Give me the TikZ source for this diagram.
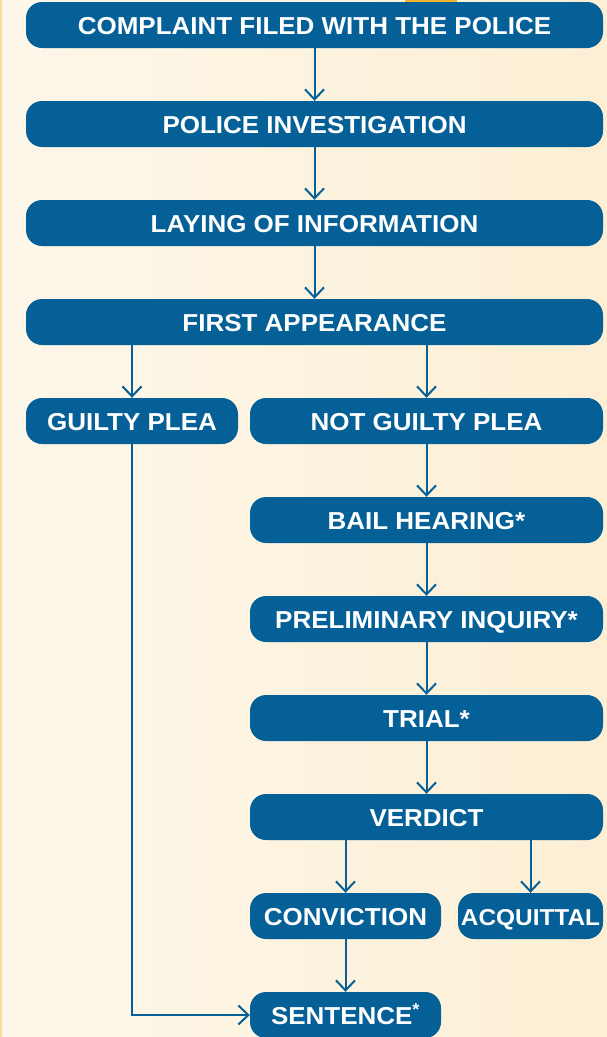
\documentclass[tikz,border=0pt]{standalone}
\usepackage{fontspec}
\setmainfont{Liberation Sans}[FakeStretch=1.06]
\usetikzlibrary{arrows.meta}
\definecolor{stepblue}{RGB}{4,96,150}
\definecolor{creamL}{RGB}{253,247,234}
\definecolor{creamR}{RGB}{252,239,212}
\definecolor{edgeyellow}{RGB}{250,222,150}
\definecolor{tabgold}{RGB}{240,178,44}
\begin{document}
\begin{tikzpicture}[x=1pt, y=-1pt,
            stage/.style={fill=stepblue, rounded corners=16pt, text=white,
                font=\bfseries\fontsize{24.5}{28}\selectfont,
                minimum height=46pt, inner sep=0pt, align=center,
                text height=19.5pt, text depth=0pt},
            full/.style={stage, minimum width=577pt},
            right/.style={stage, minimum width=353pt},
            flow/.style={draw=stepblue, line width=2pt,
                -{Straight Barb[length=10pt, width=19pt, line width=2pt]}}
        ]
            % background
            \useasboundingbox (0,0) rectangle (607,1037);
            \fill[left color=creamL, right color=creamR] (0,0) rectangle (607,1037);
            \fill[edgeyellow] (0,0) rectangle (2,1037);
            \fill[tabgold] (405,0) rectangle (457,2);

            \node[full] (complaint) at (314.5,25) {COMPLAINT FILED WITH THE POLICE};
            \node[full] (investigation) at (314.5,124) {POLICE INVESTIGATION};
            \node[full] (information) at (314.5,223) {LAYING OF INFORMATION};
            \node[full] (appearance) at (314.5,322) {FIRST APPEARANCE};

            \node[stage, minimum width=212pt] (guilty) at (132,421) {GUILTY PLEA};
            \node[right] (notguilty) at (426.5,421) {NOT GUILTY PLEA};
            \node[right] (bail) at (426.5,520) {BAIL HEARING*};
            \node[right] (inquiry) at (426.5,619) {PRELIMINARY INQUIRY*};
            \node[right] (trial) at (426.5,718) {TRIAL*};
            \node[right] (verdict) at (426.5,817) {VERDICT};

            \node[stage, minimum width=191pt] (conviction) at (345.5,916) {CONVICTION};
            \node[stage, minimum width=145pt, font=\bfseries\fontsize{23}{28}\selectfont] (acquittal) at (530.5,916) {ACQUITTAL};
            \node[stage, minimum width=191pt] (sentence) at (345.5,1015) {SENTENCE\textsuperscript{*}};

            \draw[flow] (complaint) -- (investigation);
            \draw[flow] (investigation) -- (information);
            \draw[flow] (information) -- (appearance);
            \draw[flow] (guilty |- appearance.south) -- (guilty.north);
            \draw[flow] (notguilty |- appearance.south) -- (notguilty.north);
            \draw[flow] (notguilty) -- (bail);
            \draw[flow] (bail) -- (inquiry);
            \draw[flow] (inquiry) -- (trial);
            \draw[flow] (trial) -- (verdict);
            \draw[flow] (conviction |- verdict.south) -- (conviction.north);
            \draw[flow] (acquittal |- verdict.south) -- (acquittal.north);
            \draw[flow] (conviction) -- (sentence);
            \draw[flow, rounded corners=0pt] (guilty.south) |- (sentence.west);
        \end{tikzpicture}
\end{document}
